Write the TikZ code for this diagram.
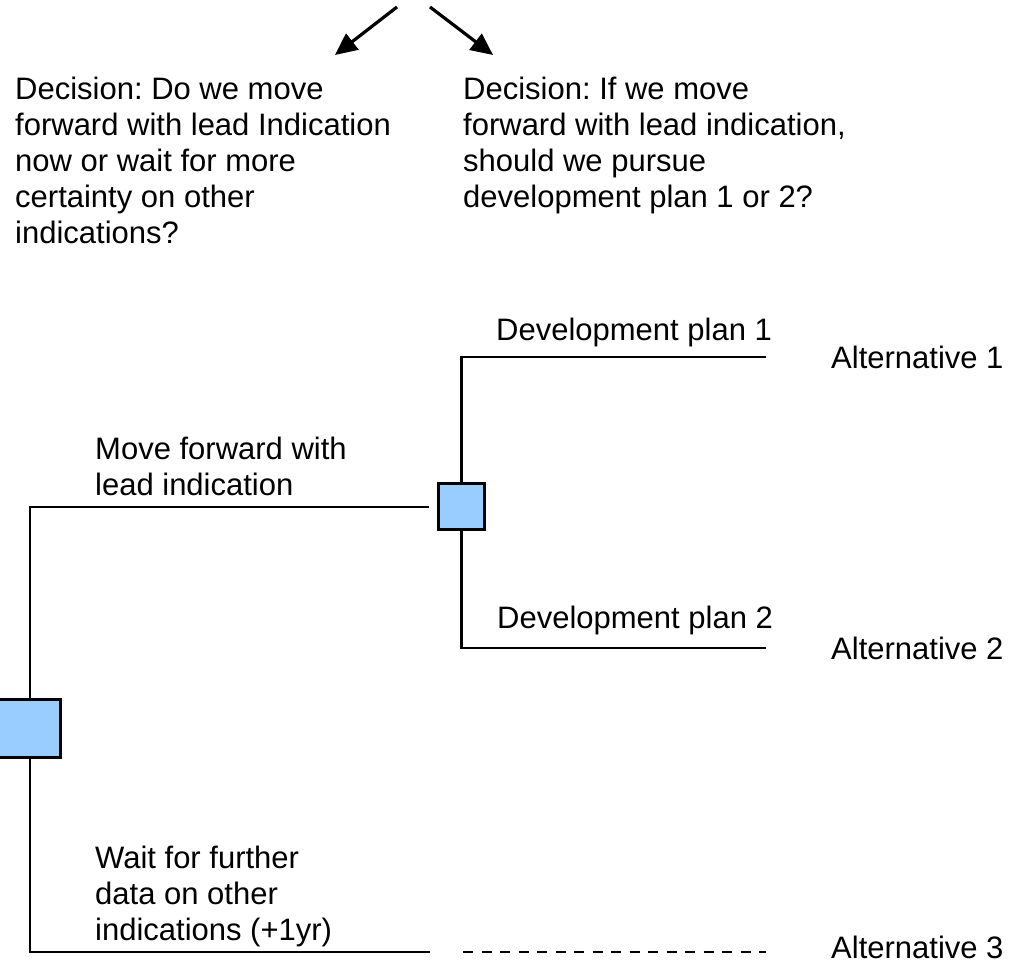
\documentclass[tikz,border=0pt]{standalone}
\usepackage{fontspec}
\setmainfont{Liberation Sans}
\usetikzlibrary{arrows.meta}
\definecolor{boxblue}{RGB}{153,204,255}
\frenchspacing
\tikzset{
  treeline/.style={line width=2.8pt},
  decbox/.style={draw=black, line width=3pt, fill=boxblue, inner sep=0pt, rectangle},
  lbl/.style={anchor=base west, inner sep=0pt, font=\fontsize{31}{36}\selectfont},
  pointer/.style={line width=3.2pt, -{Triangle[length=22pt,width=20pt]}},
}
\begin{document}
\frenchspacing
\begin{tikzpicture}[x=1pt,y=-1pt]
\useasboundingbox (0,0) rectangle (1013,963);

% top arrows
\coordinate (s1) at (397,7);
\coordinate (t1) at (335,55);
\coordinate (s2) at (430,7);
\coordinate (t2) at (493,55);
\draw[pointer] (s1) -- (t1);
\draw[pointer] (s2) -- (t2);

% decision texts
\node[lbl] (dec1) at (15,100) {\begin{tabular}[t]{@{}l@{}}Decision: Do we move\\forward with lead Indication\\now or wait for more\\certainty on other\\indications?\end{tabular}};
\node[lbl] (dec2) at (463,100) {\begin{tabular}[t]{@{}l@{}}Decision: If we move\\forward with lead indication,\\should we pursue\\development plan 1 or 2?\end{tabular}};

% decision boxes
\node[decbox, minimum width=64pt, minimum height=58pt] (box1) at (28.5,728.5) {};
\node[decbox, minimum size=46pt] (box2) at (461.5,506.5) {};

% helper and end coordinates
\coordinate (vx) at (30,0);
\coordinate (m1) at (429,507);
\coordinate (e1) at (766,357);
\coordinate (e2) at (766,648);
\coordinate (e3) at (430,952);
\coordinate (d3) at (463,952);
\coordinate (e4) at (766,952);

% tree connectors
\draw[treeline] (box1.north -| vx) |- (m1);
\draw[treeline] (box2.north) |- (e1);
\draw[treeline] (box2.south) |- (e2);
\draw[treeline] (box1.south -| vx) |- (e3);
\draw[treeline, dash pattern=on 10pt off 8.5pt] (d3) -- (e4);

% branch labels
\node[lbl] (mv) at (95,459) {\begin{tabular}[t]{@{}l@{}}Move forward with\\lead indication\end{tabular}};
\node[lbl] (dp1) at (496,340) {Development plan 1};
\node[lbl] (dp2) at (497,628) {Development plan 2};
\node[lbl] (wt) at (95,868) {\begin{tabular}[t]{@{}l@{}}Wait for further\\data on other\\indications (+1yr)\end{tabular}};

% alternatives
\node[lbl] (alt1) at (831,368) {Alternative 1};
\node[lbl] (alt2) at (831,659) {Alternative 2};
\node[lbl] (alt3) at (831,958) {Alternative 3};
\end{tikzpicture}
\end{document}
